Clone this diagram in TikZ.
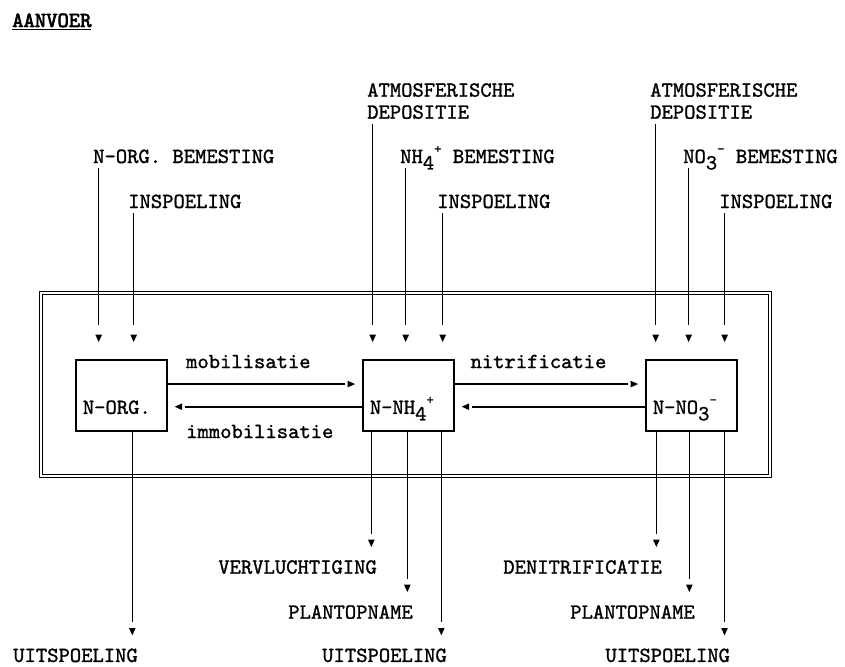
\documentclass[tikz,border=0pt]{standalone}
\usepackage{fontspec}
\usetikzlibrary{decorations.markings}

\newfontfamily\typ{lmmono10-regular}[Extension=.otf, FakeBold=1.2]
\newfontfamily\typvet{lmmono10-regular}[Extension=.otf, FakeBold=3]
\newcommand\tekst{\typ\fontsize{18.4}{18.8}\selectfont}
\newcommand\lowr[1]{\raisebox{-0.3em}[0pt][0pt]{#1}}
\newcommand\highr[1]{\raisebox{0.45em}[0pt][0pt]{\fontsize{12}{12}\selectfont #1}}

\begin{document}
\begin{tikzpicture}[
  % Node styles
  every node/.style={font=\tekst, inner sep=0pt},
  vak/.style={draw, line width=1.5pt, minimum width=2.73cm, inner xsep=0.21cm, text width=2.31cm, align=left, text height=1.62cm, text depth=0.51cm},
  kader/.style={draw, line width=1.5pt, double, double distance=1pt},
  % Edge styles (#1 = tip to node, #2 = line end to node)
  pijl/.style 2 args={line width=1.4pt, shorten >=#2,
    postaction={decorate, decoration={markings, mark=at position -#1 with {\fill[shorten >=0pt] (0,0) -- (-0.22,0.1) -- (-0.22,-0.1) -- cycle;}}}},
  toe/.style={pijl={0.51cm}{1.02cm}},
  af/.style={pijl={0.39cm}{0.78cm}},
  over/.style={pijl={0.21cm}{0.51cm}},
]
\useasboundingbox (0,0) rectangle (25.35,-20.01);

% === TITLE ===
\node[anchor=base west, font=\typvet\fontsize{18.4}{18.8}\selectfont] (titel) at (0.36,-0.81) {\underline{AANVOER}};

% === FRAME ===
\draw[kader] (1.23,-8.79) rectangle (23.10,-14.28);

% === COMPARTMENTS ===
\node[vak, anchor=north west] (NORG) at (2.25,-10.77)  {N-ORG.};
\node[vak, anchor=north west] (NNH)  at (10.86,-10.77) {N-NH\lowr{4}\highr{+}};
\node[vak, anchor=north west] (NNO)  at (19.35,-10.77) {N-NO\lowr{3}\highr{-}};

% === INPUTS ===
\node[anchor=base west] (bemO)  at (2.79,-4.89)  {N-ORG. BEMESTING};
\node[anchor=base west] (inspO) at (3.84,-6.24)  {INSPOELING};
\node[anchor=north west, align=left] (atmN) at (11.01,-2.49) {ATMOSFERISCHE\\DEPOSITIE};
\node[anchor=base west] (bemN)  at (12.00,-4.89) {NH\lowr{4}\highr{+} BEMESTING};
\node[anchor=base west] (inspN) at (13.11,-6.24) {INSPOELING};
\node[anchor=north west, align=left] (atmX) at (19.50,-2.49) {ATMOSFERISCHE\\DEPOSITIE};
\node[anchor=base west] (bemX)  at (20.49,-4.89) {NO\lowr{3}\highr{-} BEMESTING};
\node[anchor=base west] (inspX) at (21.57,-6.24) {INSPOELING};

% === OUTPUTS ===
\node[anchor=north east] (uitO)   at (4.14,-19.45)  {UITSPOELING};
\node[anchor=north east] (vervN)  at (11.31,-16.80) {VERVLUCHTIGING};
\node[anchor=north east] (plantN) at (12.39,-18.15) {PLANTOPNAME};
\node[anchor=north east] (uitN)   at (13.41,-19.45) {UITSPOELING};
\node[anchor=north east] (denX)   at (19.86,-16.80) {DENITRIFICATIE};
\node[anchor=north east] (plantX) at (20.85,-18.15) {PLANTOPNAME};
\node[anchor=north east] (uitX)   at (21.905,-19.45) {UITSPOELING};

% arrow columns
\coordinate (inO1) at ([xshift=0.17cm, yshift=-0.15cm]bemO.south west);
\coordinate (inO2) at ([xshift=0.17cm, yshift=-0.15cm]inspO.south west);
\coordinate (inN1) at ([xshift=0.17cm, yshift=-0.15cm]atmN.south west);
\coordinate (inN2) at ([xshift=0.17cm, yshift=-0.15cm]bemN.south west);
\coordinate (inN3) at ([xshift=0.17cm, yshift=-0.15cm]inspN.south west);
\coordinate (inX1) at ([xshift=0.17cm, yshift=-0.15cm]atmX.south west);
\coordinate (inX2) at ([xshift=0.17cm, yshift=-0.15cm]bemX.south west);
\coordinate (inX3) at ([xshift=0.17cm, yshift=-0.15cm]inspX.south west);
\coordinate (exO1) at ([xshift=-0.17cm]uitO.north east);
\coordinate (exN1) at ([xshift=-0.17cm]vervN.north east);
\coordinate (exN2) at ([xshift=-0.17cm]plantN.north east);
\coordinate (exN3) at ([xshift=-0.17cm]uitN.north east);
\coordinate (exX1) at ([xshift=-0.17cm]denX.north east);
\coordinate (exX2) at ([xshift=-0.17cm]plantX.north east);
\coordinate (exX3) at ([xshift=-0.17cm]uitX.north east);

% ============================================================
% 1. INPUT ARROWS
% ============================================================
\draw[toe] (inO1) -- (inO1 |- NORG.north);
\draw[toe] (inO2) -- (inO2 |- NORG.north);
\draw[toe] (inN1) -- (inN1 |- NNH.north);
\draw[toe] (inN2) -- (inN2 |- NNH.north);
\draw[toe] (inN3) -- (inN3 |- NNH.north);
\draw[toe] (inX1) -- (inX1 |- NNO.north);
\draw[toe] (inX2) -- (inX2 |- NNO.north);
\draw[toe] (inX3) -- (inX3 |- NNO.north);

% ============================================================
% 2. TRANSFORMATIONS
% ============================================================
\draw[over] ([yshift=0.34cm]NORG.east) -- ([yshift=0.34cm]NNH.west) node[pos=0.415, above=0.45cm] {mobilisatie};
\draw[over] ([yshift=-0.34cm]NNH.west) -- ([yshift=-0.34cm]NORG.east) node[pos=0.526, below=0.52cm] {immobilisatie};
\draw[over] ([yshift=0.34cm]NNH.east) -- ([yshift=0.34cm]NNO.west) node[pos=0.44, above=0.45cm] {nitrificatie};
\draw[over] ([yshift=-0.34cm]NNO.west) -- ([yshift=-0.34cm]NNH.east);

% ============================================================
% 3. OUTPUT ARROWS
% ============================================================
\draw[af] (exO1 |- NORG.south) -- (exO1);
\draw[af] (exN1 |- NNH.south) -- (exN1);
\draw[af] (exN2 |- NNH.south) -- (exN2);
\draw[af] (exN3 |- NNH.south) -- (exN3);
\draw[af] (exX1 |- NNO.south) -- (exX1);
\draw[af] (exX2 |- NNO.south) -- (exX2);
\draw[af] (exX3 |- NNO.south) -- (exX3);

\end{tikzpicture}
\end{document}
